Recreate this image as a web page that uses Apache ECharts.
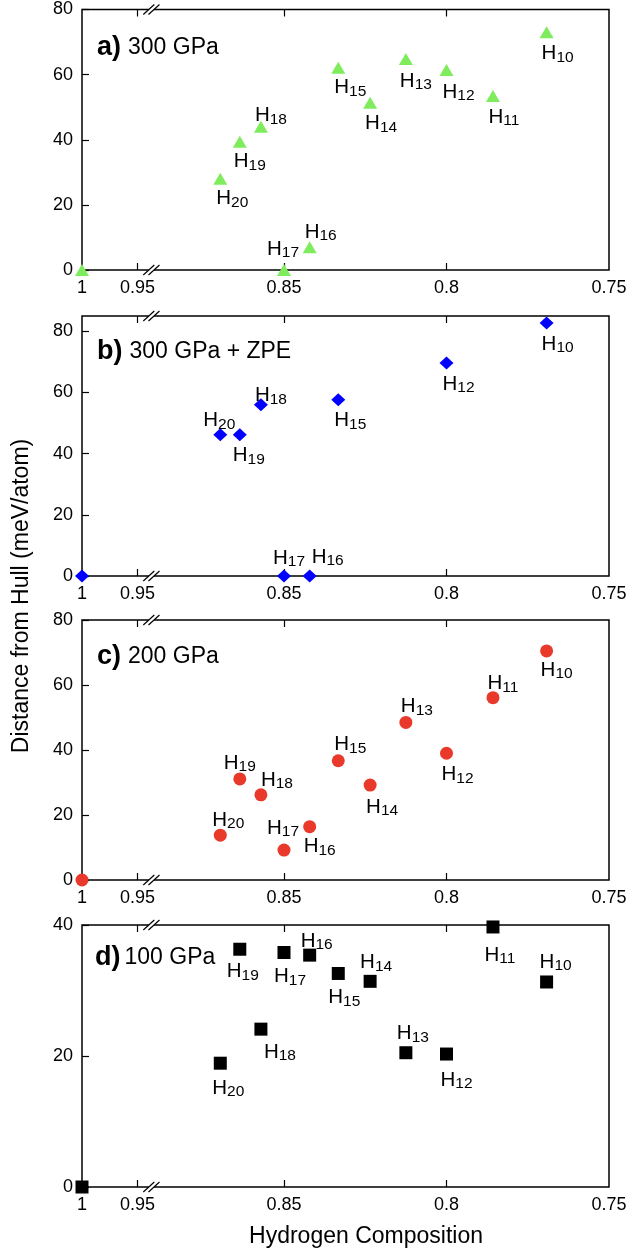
<!DOCTYPE html>
<html><head><meta charset="utf-8">
<script src="https://cdn.jsdelivr.net/npm/echarts@6/dist/echarts.min.js"></script>
<style>html,body{margin:0;padding:0;background:#fff}#c{width:631px;height:1255px}</style>
</head><body><div id="c"></div><script>
// ---------- data ----------
const hydrogenCount = [20, 19, 18, 17, 16, 15, 14, 13, 12, 11, 10];
const composition   = [0.8696, 0.8636, 0.8571, 0.85, 0.8421, 0.8333, 0.8235, 0.8125, 0.8, 0.7857, 0.7692];
const pureComposition = 1;
const pureDistance = 0;
const dist300    = [28, 39.4, 44, 0, 7, 62.1, 51.4, 64.8, 61.4, 53.4, 73];
const dist300zpe = [46.2, 46.2, 56, 0, 0, 57.6, null, null, 69.6, null, 82.7];
const dist200    = [13.8, 31.1, 26.2, 9.2, 16.4, 36.7, 29.2, 48.5, 39, 56.1, 70.5];
const dist100    = [18.9, 36.3, 24.1, 35.8, 35.4, 32.6, 31.4, 20.5, 20.3, 39.7, 31.3];
const panelTags   = ['a)', 'b)', 'c)', 'd)'];
const panelNames  = ['300 GPa', '300 GPa + ZPE', '200 GPa', '100 GPa'];
const xTickCompositions = [1, 0.95, 0.85, 0.8, 0.75];
const xTickLabels = ['1', '0.95', '0.85', '0.8', '0.75'];
const yTicksA = [0, 20, 40, 60, 80];
const yTicksB = [0, 20, 40, 60, 80];
const yTicksC = [0, 20, 40, 60, 80];
const yTicksD = [0, 20, 40];
const yMax = [80, 85, 80, 40];
const xTitle = 'Hydrogen Composition';
const yTitle = 'Distance from Hull (meV/atom)';

// ---------- layout / style ----------
const FONT = '"Liberation Sans", Arial, Helvetica, sans-serif';
const labelOffsets = [
  [[12,20],[10,20],[10,-11],[-1,-21],[11,-15],[12,20],[11,21],[10,22],[12,22],[11,21],[11,21]],
  [[-1,-14],[9,21],[10,-9],[5,-18],[18,-19],[12,21],null,null,[12,21],null,[11,21]],
  [[8,-15],[0,-16],[16,-15],[-1,-22],[10,20],[12,-16],[12,22],[11,-16],[11,21],[10,-14],[10,19]],
  [[8,25],[3,22],[19,23],[6,24],[7,-14],[6,24],[6,-19],[7,-19],[10,26],[7,28],[9,-20]]
];
const grids = [
  {top: 9.5, height: 260.5},
  {top: 316, height: 260},
  {top: 620, height: 260},
  {top: 925, height: 262}
];
const titleCenters = [
  {x: 97, dy: 38}, {x: 97, dy: 36}, {x: 97, dy: 37}, {x: 95, dy: 33}
];
const markerStyles = [
  {symbol: 'triangle', size: [14, 12], color: '#7eec5c'},
  {symbol: 'diamond', size: [14, 13], color: '#0000ff'},
  {symbol: 'circle', size: 13, color: '#e8392b'},
  {symbol: 'rect', size: 13, color: '#000000'}
];
const panelValues = [dist300, dist300zpe, dist200, dist100];
const yTickSets = [yTicksA, yTicksB, yTicksC, yTicksD];

// broken x axis: pure H (1) drawn in a compressed left segment
const AX_MAX = 0.91215, AX_MIN = 0.75, SEG_ANCHOR = 0.8951, SEG_SCALE = 0.341, BREAK_U = 0.8908;
function toAxis(c) { return c >= 0.94 ? SEG_ANCHOR + (c - 0.95) * SEG_SCALE : c; }
const xTickAxis = xTickCompositions.map(toAxis);
function xLabel(v) {
  let best = 0, d = Infinity;
  xTickAxis.forEach((t, i) => { if (Math.abs(t - v) < d) { d = Math.abs(t - v); best = i; } });
  return xTickLabels[best];
}

const option = {
  animation: false,
  backgroundColor: '#fff',
  textStyle: {fontFamily: FONT},
  grid: grids.map(g => ({left: 82, width: 527, top: g.top, height: g.height,
    show: true, borderColor: '#000', borderWidth: 1.5, backgroundColor: 'transparent'})),
  xAxis: [],
  yAxis: [],
  series: [],
  graphic: []
};

grids.forEach((g, i) => {
  option.xAxis.push({
    type: 'value', gridIndex: i, inverse: true, min: AX_MIN, max: AX_MAX, position: 'bottom',
    axisLine: {show: false}, splitLine: {show: false},
    axisTick: {show: true, inside: true, length: 7, customValues: xTickAxis.slice(1, 4), lineStyle: {color: '#000', width: 1.2}},
    axisLabel: {show: true, customValues: xTickAxis, formatter: xLabel, fontSize: 18, color: '#000', margin: 9, fontFamily: FONT}
  });
  option.xAxis.push({
    type: 'value', gridIndex: i, inverse: true, min: AX_MIN, max: AX_MAX, position: 'top',
    axisLine: {show: false}, splitLine: {show: false},
    axisTick: {show: true, inside: true, length: 7, customValues: xTickAxis.slice(1, 4), lineStyle: {color: '#000', width: 1.2}},
    axisLabel: {show: false}
  });
  option.yAxis.push({
    type: 'value', gridIndex: i, min: 0, max: yMax[i],
    axisLine: {show: false}, splitLine: {show: false},
    axisTick: {show: true, inside: true, length: 7, customValues: yTickSets[i], lineStyle: {color: '#000', width: 1.2}},
    axisLabel: {show: true, customValues: yTickSets[i], fontSize: 18, color: '#000', margin: 9, fontFamily: FONT}
  });

  const ms = markerStyles[i];
  const data = [{value: [toAxis(pureComposition), pureDistance], label: {show: false}}];
  panelValues[i].forEach((v, k) => {
    if (v === null || v === undefined) return;
    const off = labelOffsets[i][k] || [10, 20];
    data.push({
      value: [toAxis(composition[k]), v],
      label: {show: true, position: 'inside', offset: off,
        formatter: '{h|H}{s|' + hydrogenCount[k] + '}'}
    });
  });
  option.series.push({
    type: 'scatter', xAxisIndex: 2 * i, yAxisIndex: i, clip: false,
    symbol: ms.symbol, symbolSize: ms.size,
    itemStyle: {color: ms.color, opacity: 1},
    label: {
      color: '#000', fontFamily: FONT,
      rich: {
        h: {fontSize: 20.5, lineHeight: 24, color: '#000', fontFamily: FONT},
        s: {fontSize: 15.5, lineHeight: 14, verticalAlign: 'bottom', color: '#000', fontFamily: FONT}
      }
    },
    emphasis: {disabled: true},
    data: data
  });

  const tc = titleCenters[i];
  option.graphic.push({
    type: 'text', x: tc.x, y: g.top + tc.dy,
    style: {
      text: '{b|' + panelTags[i] + '}{n|' + panelNames[i] + '}',
      verticalAlign: 'middle', align: 'left',
      rich: {
        b: {fontSize: 27, fontWeight: 'bold', fill: '#000', fontFamily: FONT, padding: [0, i === 3 ? 4 : 7, 0, 0], verticalAlign: 'middle'},
        n: {fontSize: 23, fill: '#000', fontFamily: FONT, verticalAlign: 'middle'}
      }
    }
  });
});

option.graphic.push({
  type: 'text', x: 22, y: 596, rotation: Math.PI / 2,
  style: {text: yTitle, fontSize: 23, fill: '#000', fontFamily: FONT, align: 'center', verticalAlign: 'middle'}
});
option.graphic.push({
  type: 'text', x: 366, y: 1237,
  style: {text: xTitle, fontSize: 23, fill: '#000', fontFamily: FONT, align: 'center', verticalAlign: 'middle'}
});

const chart = echarts.init(document.getElementById('c'), null, {renderer: 'canvas'});
chart.setOption(option);

// axis break marks (//) on top and bottom border of each panel
const breaks = [];
grids.forEach((g, i) => {
  const bx = chart.convertToPixel({xAxisIndex: 2 * i}, BREAK_U);
  [g.top, g.top + g.height].forEach(by => {
    breaks.push({type: 'rect', z: 100, shape: {x: bx - 2.6, y: by - 1.5, width: 5.2, height: 3}, style: {fill: '#fff'}});
    [-2.6, 2.6].forEach(dx => {
      breaks.push({type: 'line', z: 101,
        shape: {x1: bx + dx - 5.5, y1: by + 5, x2: bx + dx + 5.5, y2: by - 5},
        style: {stroke: '#000', lineWidth: 1.2}});
    });
  });
});
chart.setOption({graphic: option.graphic.concat(breaks)});
</script></body></html>
